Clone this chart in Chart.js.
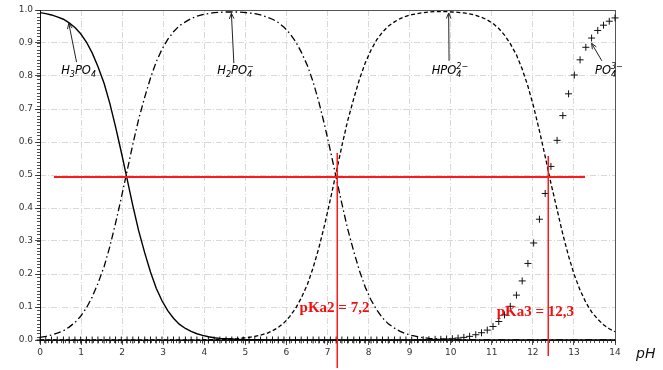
<!DOCTYPE html>
<html>
<head>
<meta charset="utf-8">
<script src="https://cdn.jsdelivr.net/npm/chart.js@4/dist/chart.umd.min.js"></script>
<style>
  body { margin: 0; background: #fff; }
  canvas { display: block; }
</style>
</head>
<body>
<canvas id="graf" width="663" height="370"></canvas>
<script>
const ph = [0, 0.14, 0.28, 0.42, 0.57, 0.71, 0.85, 0.99, 1.13, 1.27,
  1.41, 1.56, 1.70, 1.84, 1.98, 2.12, 2.26, 2.40, 2.55, 2.69,
  2.83, 2.97, 3.11, 3.25, 3.39, 3.54, 3.68, 3.82, 3.96, 4.10,
  4.24, 4.38, 4.53, 4.67, 4.81, 4.95, 5.09, 5.23, 5.37, 5.52,
  5.66, 5.80, 5.94, 6.08, 6.22, 6.36, 6.51, 6.65, 6.79, 6.93,
  7.07, 7.21, 7.35, 7.49, 7.64, 7.78, 7.92, 8.06, 8.20, 8.34,
  8.48, 8.63, 8.77, 8.91, 9.05, 9.19, 9.33, 9.47, 9.62, 9.76,
  9.90, 10.04, 10.18, 10.32, 10.46, 10.61, 10.75, 10.89, 11.03, 11.17,
  11.31, 11.45, 11.60, 11.74, 11.88, 12.02, 12.16, 12.30, 12.44, 12.59,
  12.73, 12.87, 13.01, 13.15, 13.29, 13.43, 13.58, 13.72, 13.86, 14];

const h3po4 = [0.992, 0.989, 0.985, 0.979, 0.972, 0.961, 0.947, 0.928, 0.903, 0.870,
  0.829, 0.778, 0.717, 0.646, 0.569, 0.488, 0.407, 0.332, 0.264, 0.206,
  0.157, 0.119, 0.089, 0.066, 0.048, 0.035, 0.026, 0.019, 0.014, 0.010,
  0.007, 0.005, 0.004, 0.003, 0.002, 0.001, 0.001, 0.001, 0.001, 0,
  0, 0, 0, 0, 0, 0, 0, 0, 0, 0,
  0, 0, 0, 0, 0, 0, 0, 0, 0, 0,
  0, 0, 0, 0, 0, 0, 0, 0, 0, 0,
  0, 0, 0, 0, 0, 0, 0, 0, 0, 0,
  0, 0, 0, 0, 0, 0, 0, 0, 0, 0,
  0, 0, 0, 0, 0, 0, 0, 0, 0, 0];

const h2po4 = [0.008, 0.011, 0.015, 0.021, 0.028, 0.039, 0.053, 0.072, 0.097, 0.130,
  0.171, 0.222, 0.283, 0.354, 0.431, 0.512, 0.593, 0.668, 0.736, 0.794,
  0.843, 0.881, 0.911, 0.934, 0.952, 0.964, 0.974, 0.981, 0.986, 0.989,
  0.992, 0.993, 0.994, 0.994, 0.994, 0.993, 0.991, 0.989, 0.985, 0.979,
  0.972, 0.962, 0.948, 0.929, 0.905, 0.873, 0.832, 0.782, 0.721, 0.651,
  0.574, 0.493, 0.413, 0.337, 0.268, 0.209, 0.160, 0.121, 0.091, 0.067,
  0.049, 0.036, 0.026, 0.019, 0.014, 0.010, 0.007, 0.005, 0.004, 0.003,
  0.002, 0.001, 0.001, 0.001, 0.001, 0, 0, 0, 0, 0,
  0, 0, 0, 0, 0, 0, 0, 0, 0, 0,
  0, 0, 0, 0, 0, 0, 0, 0, 0, 0];

const hpo4 = [0, 0, 0, 0, 0, 0, 0, 0, 0, 0,
  0, 0, 0, 0, 0, 0, 0, 0, 0, 0,
  0, 0, 0, 0, 0, 0, 0, 0, 0.001, 0.001,
  0.001, 0.002, 0.002, 0.003, 0.004, 0.006, 0.008, 0.011, 0.015, 0.020,
  0.028, 0.038, 0.052, 0.071, 0.095, 0.127, 0.168, 0.219, 0.279, 0.349,
  0.426, 0.507, 0.588, 0.664, 0.732, 0.791, 0.840, 0.879, 0.910, 0.933,
  0.951, 0.964, 0.974, 0.981, 0.986, 0.989, 0.992, 0.994, 0.995, 0.995,
  0.995, 0.994, 0.993, 0.991, 0.988, 0.984, 0.978, 0.970, 0.959, 0.944,
  0.924, 0.898, 0.864, 0.821, 0.769, 0.706, 0.634, 0.556, 0.475, 0.395,
  0.320, 0.254, 0.197, 0.151, 0.114, 0.085, 0.063, 0.046, 0.034, 0.025];

const po4 = [0, 0, 0, 0, 0, 0, 0, 0, 0, 0,
  0, 0, 0, 0, 0, 0, 0, 0, 0, 0,
  0, 0, 0, 0, 0, 0, 0, 0, 0, 0,
  0, 0, 0, 0, 0, 0, 0, 0, 0, 0,
  0, 0, 0, 0, 0, 0, 0, 0, 0, 0,
  0, 0, 0, 0, 0, 0, 0, 0, 0, 0,
  0, 0, 0, 0, 0, 0.001, 0.001, 0.001, 0.002, 0.002,
  0.003, 0.004, 0.006, 0.008, 0.011, 0.016, 0.022, 0.030, 0.041, 0.056,
  0.076, 0.102, 0.136, 0.179, 0.232, 0.294, 0.366, 0.444, 0.526, 0.605,
  0.680, 0.746, 0.803, 0.849, 0.887, 0.915, 0.938, 0.954, 0.966, 0.976];

// repères rouges
const demi = 0.495;
const demiDe = 0.35, demiA = 13.27;
const pKa2 = 7.23, pKa3 = 12.38;
const pKa2Haut = 0.567, pKa3Haut = 0.558;
const textePKa = [
  { t: 'pKa2 = 7,2', x: 6.32, y: 0.085 },
  { t: 'pKa3 = 12,3', x: 11.12, y: 0.073 }
];

// étiquettes des espèces : [texte, x, y, flèche de (x,y) vers (x,y)]
const especes = [
  { parts: [['H'], ['3', 'sub'], ['PO'], ['4', 'sub']], x: 0.94, y: 0.805, de: [0.89, 0.842], vers: [0.70, 0.96] },
  { parts: [['H'], ['2', 'sub'], ['PO'], ['4', 'sub', '−']], x: 4.76, y: 0.805, de: [4.72, 0.839], vers: [4.66, 0.99] },
  { parts: [['HPO'], ['4', 'sub', '2−']], x: 9.98, y: 0.805, de: [9.96, 0.846], vers: [9.95, 0.991] },
  { parts: [['PO'], ['4', 'sub', '3−']], x: 13.85, y: 0.805, de: [13.68, 0.846], vers: [13.43, 0.899] }
];

const pts = arr => arr.map((v, i) => ({ x: ph[i], y: v }));

const trait = (ctx, x0, y0, x1, y1) => {
  ctx.beginPath();
  ctx.moveTo(x0, y0);
  ctx.lineTo(x1, y1);
  ctx.stroke();
};

const dessinPlugin = {
  id: 'dessin',
  beforeDatasetsDraw(chart) {
    const { ctx, chartArea: a, scales: { x, y } } = chart;
    ctx.save();
    ctx.setLineDash([]);
    // cadre
    ctx.strokeStyle = '#555';
    ctx.lineWidth = 1;
    ctx.strokeRect(a.left + 0.5, a.top + 0.5, a.right - a.left, a.bottom - a.top);
    ctx.strokeStyle = '#111';
    ctx.beginPath();
    ctx.moveTo(a.left + 0.5, a.top);
    ctx.lineTo(a.left + 0.5, a.bottom + 0.5);
    ctx.lineTo(a.right, a.bottom + 0.5);
    ctx.stroke();
    // petites graduations
    ctx.strokeStyle = '#222';
    ctx.lineWidth = 0.8;
    ctx.beginPath();
    for (let k = 0; k <= 100; k++) {
      const py = Math.round(y.getPixelForValue(k / 100)) + 0.5;
      ctx.moveTo(a.left - 3, py);
      ctx.lineTo(a.left, py);
    }
    for (let k = 0; k <= 140; k++) {
      const px = Math.round(x.getPixelForValue(k / 10)) + 0.5;
      ctx.moveTo(px, a.bottom);
      ctx.lineTo(px, a.bottom + 3);
    }
    ctx.stroke();
    ctx.restore();
  },
  afterDraw(chart) {
    const { ctx, scales: { x, y } } = chart;
    ctx.save();
    ctx.setLineDash([]);
    ctx.globalAlpha = 1;

    // étiquettes et flèches
    ctx.fillStyle = '#000';
    ctx.strokeStyle = '#222';
    ctx.textBaseline = 'alphabetic';
    ctx.textAlign = 'left';
    especes.forEach(e => {
      const grand = 'italic 11.5px "DejaVu Sans"', petit = 'italic 8px "DejaVu Sans"';
      let w = 0;
      e.parts.forEach(p => {
        ctx.font = p[1] ? petit : grand;
        const w1 = ctx.measureText(p[0]).width;
        const w2 = p[2] ? ctx.measureText(p[2]).width : 0;
        w += Math.max(w1, w2);
      });
      let cx = x.getPixelForValue(e.x) - w / 2;
      const by = y.getPixelForValue(e.y);
      e.parts.forEach(p => {
        if (p[1]) {
          ctx.font = petit;
          ctx.fillText(p[0], cx, by + 3);
          let ww = ctx.measureText(p[0]).width;
          if (p[2]) {
            ctx.fillText(p[2], cx, by - 5);
            ww = Math.max(ww, ctx.measureText(p[2]).width);
          }
          cx += ww;
        } else {
          ctx.font = grand;
          ctx.fillText(p[0], cx, by);
          cx += ctx.measureText(p[0]).width;
        }
      });
      const x0 = x.getPixelForValue(e.de[0]), y0 = y.getPixelForValue(e.de[1]);
      const x1 = x.getPixelForValue(e.vers[0]), y1 = y.getPixelForValue(e.vers[1]);
      const ang = Math.atan2(y1 - y0, x1 - x0);
      ctx.lineWidth = 1;
      trait(ctx, x0, y0, x1, y1);
      trait(ctx, x1 - 6 * Math.cos(ang - 0.4), y1 - 6 * Math.sin(ang - 0.4), x1, y1);
      trait(ctx, x1 - 6 * Math.cos(ang + 0.4), y1 - 6 * Math.sin(ang + 0.4), x1, y1);
    });

    // lignes rouges
    ctx.fillStyle = '#ff1a1a';
    const yd = Math.round(y.getPixelForValue(demi));
    const xa = x.getPixelForValue(demiDe), xb = x.getPixelForValue(demiA);
    ctx.fillRect(Math.round(xa), yd - 1, Math.round(xb - xa), 2);
    const x2 = Math.round(x.getPixelForValue(pKa2));
    const t2 = Math.round(y.getPixelForValue(pKa2Haut));
    ctx.fillRect(x2 - 0.5, t2, 1.5, 368 - t2);
    const x3 = Math.round(x.getPixelForValue(pKa3));
    const t3 = Math.round(y.getPixelForValue(pKa3Haut));
    ctx.fillRect(x3 - 0.5, t3, 1.5, 356 - t3);

    ctx.fillStyle = '#f01010';
    ctx.font = 'bold 15px "Liberation Serif"';
    textePKa.forEach(p => ctx.fillText(p.t, x.getPixelForValue(p.x), y.getPixelForValue(p.y)));

    // nom de l'axe
    ctx.fillStyle = '#111';
    ctx.font = 'italic 14px "DejaVu Sans"';
    ctx.fillText('pH', 636, 358);
    ctx.restore();
  }
};

const tickFont = { family: 'DejaVu Sans', size: 9 };

new Chart(document.getElementById('graf'), {
  type: 'line',
  data: {
    datasets: [
      { data: pts(h3po4), borderColor: '#000', borderWidth: 1.4, pointRadius: 0, fill: false },
      { data: pts(h2po4), borderColor: '#000', borderWidth: 1.3, borderDash: [7, 3, 1.5, 3], pointRadius: 0, fill: false },
      { data: pts(hpo4), borderColor: '#000', borderWidth: 1.3, borderDash: [4, 2.5], pointRadius: 0, fill: false },
      { data: pts(po4), showLine: false, pointStyle: 'cross', pointRadius: 3.5, borderColor: '#111', borderWidth: 1, clip: false }
    ]
  },
  options: {
    responsive: false,
    animation: false,
    layout: { padding: { top: 10, right: 48, left: 0, bottom: 0 } },
    plugins: { legend: { display: false }, tooltip: { enabled: false } },
    scales: {
      x: {
        type: 'linear', min: 0, max: 14,
        ticks: { stepSize: 1, font: tickFont, color: '#333', padding: 2, maxRotation: 0 },
        grid: { color: '#cfcfcf', lineWidth: 0.8, tickColor: '#222', tickLength: 5 },
        border: { display: false, dash: [6, 2, 1, 2] },
        afterFit(s) { s.height = 30; }
      },
      y: {
        min: 0, max: 1,
        ticks: { stepSize: 0.1, font: tickFont, color: '#333', padding: 2, callback: v => v.toFixed(1) },
        grid: { color: '#cfcfcf', lineWidth: 0.8, tickColor: '#222', tickLength: 5 },
        border: { display: false, dash: [6, 2, 1, 2] },
        afterFit(s) { s.width = 40; }
      }
    }
  },
  plugins: [dessinPlugin]
});
</script>
</body>
</html>
